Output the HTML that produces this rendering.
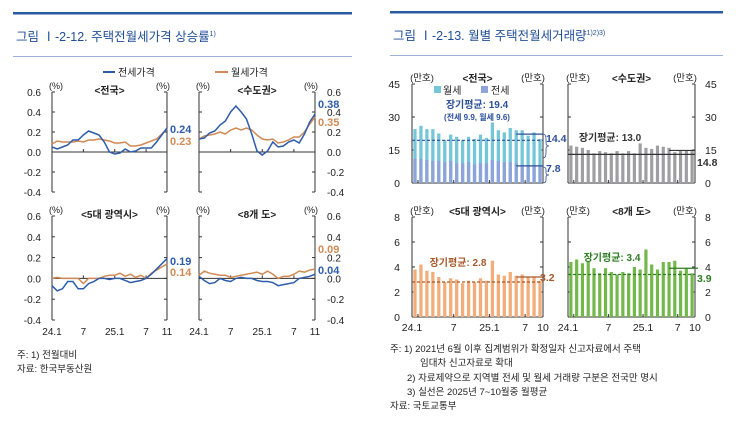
<!DOCTYPE html>
<html><head><meta charset="utf-8">
<style>
body{margin:0;background:#fff;}
svg{display:block;font-family:"Liberation Sans","Noto Sans CJK KR",sans-serif;}
</style></head>
<body>
<svg id="c" width="750" height="447" viewBox="0 0 750 447">
<g>
<rect x="13" y="12" width="339" height="2.5" fill="#2a5aa0"/>
<text x="16" y="41" font-size="12.5" fill="#1f4e96">그림 Ⅰ-2-12. 주택전월세가격 상승률<tspan font-size="7" dy="-5">1)</tspan></text>
<rect x="13" y="56" width="339" height="1" fill="#9bb3d6"/>
</g>
<g>
<rect x="390" y="11" width="333" height="2.5" fill="#2a5aa0"/>
<text x="393" y="40" font-size="12.5" fill="#1f4e96">그림 Ⅰ-2-13. 월별 주택전월세거래량<tspan font-size="7" dy="-5">1)2)3)</tspan></text>
<rect x="390" y="55" width="333" height="1" fill="#9bb3d6"/>
</g>
<g>
<line x1="103" y1="72" x2="115" y2="72" stroke="#2f5caa" stroke-width="2"/>
<text x="118" y="76" font-size="10" fill="#222">전세가격</text>
<line x1="215" y1="72" x2="228" y2="72" stroke="#d08a55" stroke-width="2"/>
<text x="231" y="76" font-size="10" fill="#222">월세가격</text>
</g>
<g id="charts"></g>
<g font-size="9.5" fill="#222">
<text x="17" y="358">주: 1) 전월대비</text>
<text x="17" y="372">자료: 한국부동산원</text>
</g>
<g font-size="9.5" fill="#222">
<text x="390" y="352">주: 1) 2021년 6월 이후 집계범위가 확정일자 신고자료에서 주택</text>
<text x="420" y="366">임대차 신고자료로 확대</text>
<text x="407" y="381">2) 자료제약으로 지역별 전세 및 월세 거래량 구분은 전국만 명시</text>
<text x="407" y="395">3) 실선은 2025년 7~10월중 월평균</text>
<text x="390" y="409">자료: 국토교통부</text>
</g>
</svg>
<script>
// ---- price change data (24.1 .. 25.11) ----
const priceTicks = [0.6, 0.4, 0.2, 0.0, -0.2, -0.4];
const priceXLabels = ["24.1", "7", "25.1", "7", "11"];
const priceXLabelIdx = [0, 6, 12, 18, 22];
const natJeonse = [0.05,0.03,0.05,0.07,0.12,0.12,0.17,0.21,0.19,0.17,0.10,0.00,-0.02,-0.01,0.03,0.00,0.01,0.04,0.04,0.04,0.10,0.17,0.24];
const natWolse = [0.08,0.11,0.10,0.10,0.10,0.11,0.10,0.12,0.12,0.13,0.12,0.11,0.09,0.09,0.10,0.06,0.06,0.07,0.09,0.11,0.13,0.18,0.23];
const capJeonse = [0.13,0.14,0.19,0.21,0.27,0.31,0.40,0.46,0.40,0.33,0.18,0.01,-0.03,0.01,0.10,0.05,0.06,0.10,0.12,0.09,0.18,0.30,0.38];
const capWolse = [0.13,0.16,0.17,0.18,0.20,0.18,0.22,0.24,0.22,0.24,0.22,0.17,0.13,0.12,0.13,0.09,0.10,0.12,0.15,0.15,0.20,0.28,0.35];
const metroJeonse = [-0.07,-0.12,-0.10,-0.03,-0.03,-0.10,-0.10,-0.05,-0.03,0.00,0.00,-0.01,0.00,0.00,-0.02,-0.04,-0.03,-0.02,0.00,0.04,0.09,0.14,0.19];
const metroWolse = [0.00,0.01,0.00,0.00,0.00,0.00,-0.05,0.00,0.00,0.00,0.02,0.03,0.03,0.05,0.02,0.04,0.01,0.03,0.00,0.05,0.08,0.11,0.14];
const provJeonse = [0.02,-0.02,-0.05,-0.04,0.00,-0.02,-0.03,0.00,0.01,0.00,0.00,-0.02,-0.03,-0.03,-0.04,-0.07,-0.06,-0.05,-0.04,0.00,0.01,0.02,0.04];
const provWolse = [0.03,0.07,0.05,0.04,0.03,0.03,0.01,0.02,0.03,0.04,0.05,0.06,0.04,0.07,0.04,0.00,0.02,0.02,0.04,0.07,0.06,0.08,0.09];
// ---- transaction volume data (24.1 .. 25.10), 만호 ----
const volXLabels = ["24.1", "7", "25.1", "7", "10"];
const volXLabelIdx = [0, 6, 12, 18, 21];
const natTicks = [45, 30, 15, 0];
const regTicks = [8, 6, 4, 2, 0];
const natTotal = [24.5,26,24.5,24.5,22.5,19.5,22,21,19.5,21,20,22,20.5,27.5,24,23,25,24,24,21.5,23,20];
const natJeonseVol = [11,11,10.5,10,10,9.5,10,9,9,9.5,8.5,9,9,10.5,10,9.5,9.5,9,8,8,8,7.5];
const natAvg = [19.4];
const natRecent = [22.2, 7.8];
const capVol = [17,16.5,16,15,13.5,14.5,14,13.5,14.5,13.5,14.5,13.5,18,16,15.5,17,16.5,16,14,15,15,14.5];
const capAvg = [13.0];
const capRecent = [14.8];
const metroVol = [3.8,4.2,3.7,3.6,3.2,2.8,3.1,3.0,2.7,2.9,2.8,3.1,2.9,4.5,3.4,3.3,3.6,3.3,3.4,3.2,3.2,2.9];
const metroAvg = [2.8];
const metroRecent = [3.2];
const provVol = [4.4,4.6,4.3,4.4,3.9,3.5,3.9,3.6,3.4,3.6,3.5,4.0,3.8,5.4,4.2,3.8,4.4,4.4,4.5,3.7,3.9,3.5];
const provAvg = [3.4];
const provRecent = [3.9];

const NS = "http://www.w3.org/2000/svg";
const root = document.getElementById("charts");
function mk(tag, attrs, parent, txt) {
  const e = document.createElementNS(NS, tag);
  for (const k in attrs) e.setAttribute(k, attrs[k]);
  if (txt !== undefined) e.textContent = txt;
  (parent || root).appendChild(e);
  return e;
}
const BLUE = "#2f5caa", ORANGE = "#d08a55";

function linePanel(name, x0, x1, yTop, yBot, title, jeonse, wolse, side, showX, lblJy, lblWy) {
  const g = mk("g", {});
  
  
  const vmin = -0.4, vmax = 0.6;
  const y = v => yBot - (v - vmin) / (vmax - vmin) * (yBot - yTop);
  const n = jeonse.length;
  const x = i => x0 + i * (x1 - x0) / (n - 1);
  mk("line", {x1: x0, y1: yTop, x2: x0, y2: yBot, stroke: "#333", "stroke-width": 1}, g);
  mk("line", {x1: x1, y1: yTop, x2: x1, y2: yBot, stroke: "#333", "stroke-width": 1}, g);
  mk("line", {x1: x0, y1: y(0), x2: x1, y2: y(0), stroke: "#333", "stroke-width": 1}, g);
  priceTicks.forEach(t => {
    mk("line", {x1: x0, y1: y(t), x2: x0 + 3, y2: y(t), stroke: "#333"}, g);
    mk("line", {x1: x1 - 3, y1: y(t), x2: x1, y2: y(t), stroke: "#333"}, g);
    let tx;
    if (side === "left") {
      tx = mk("text", {x: x0 - 11, y: y(t) + 4, "font-size": 10, fill: "#222", "text-anchor": "end"}, g, t.toFixed(1));
    } else {
      tx = mk("text", {x: x1 + 12, y: y(t) + 4, "font-size": 10, fill: "#222"}, g, t.toFixed(1));
    }
    
    
  });
  priceXLabelIdx.forEach(i => mk("line", {x1: x(i), y1: y(0), x2: x(i), y2: y(0) - 3, stroke: "#333"}, g));
  if (showX) {
    priceXLabelIdx.forEach((i, k) => {
      const tx = mk("text", {x: x(i), y: yBot + 15, "font-size": 10, fill: "#222", "text-anchor": "middle"}, g, priceXLabels[k]);
      
      
    });
  }
  mk("text", {x: x0 + 4, y: yTop - 3, "font-size": 9, fill: "#222", "text-anchor": "middle"}, g, "(%)");
  mk("text", {x: x1 - 4, y: yTop - 3, "font-size": 9, fill: "#222", "text-anchor": "middle"}, g, "(%)");
  const tt = mk("text", {x: (x0 + x1) / 2, y: yTop + 2, "font-size": 10, "font-weight": "bold", fill: "#222", "text-anchor": "middle"}, g, title);
  
  
  const pw = mk("polyline", {points: wolse.map((v, i) => x(i) + "," + y(v)).join(" "), fill: "none", stroke: ORANGE, "stroke-width": 1.5}, g);
  
  
  const pj = mk("polyline", {points: jeonse.map((v, i) => x(i) + "," + y(v)).join(" "), fill: "none", stroke: BLUE, "stroke-width": 1.5}, g);
  
  
  const lj = mk("text", {x: x1 + 3, y: lblJy, "font-size": 11, "font-weight": "bold", fill: BLUE}, g, jeonse[n - 1].toFixed(2));
  
  
  const lw = mk("text", {x: x1 + 3, y: lblWy, "font-size": 11, "font-weight": "bold", fill: ORANGE}, g, wolse[n - 1].toFixed(2));
  
  
}

linePanel("chart-nationwide-price", 52, 167, 92, 192, "<전국>", natJeonse, natWolse, "left", false, 133, 145);
linePanel("chart-capital-price", 199, 315, 92, 192, "<수도권>", capJeonse, capWolse, "right", false, 108, 126);
linePanel("chart-metro-price", 52, 167, 216, 320, "<5대 광역시>", metroJeonse, metroWolse, "left", true, 265, 276);
linePanel("chart-province-price", 199, 315, 216, 320, "<8개 도>", provJeonse, provWolse, "right", true, 274, 253);

function barPanel(name, x0, x1, yTop, yBot, vmax, ticks, title, side, showX, opts) {
  const g = mk("g", {});
  
  
  const y = v => yBot - v / vmax * (yBot - yTop);
  const n = opts.total.length;
  const step = (x1 - x0) / n;
  const cx = i => x0 + step * (i + 0.5);
  const bw = step * 0.55;
  mk("line", {x1: x0, y1: yTop, x2: x0, y2: yBot, stroke: "#333"}, g);
  mk("line", {x1: x1, y1: yTop, x2: x1, y2: yBot, stroke: "#333"}, g);
  mk("line", {x1: x0, y1: yBot, x2: x1, y2: yBot, stroke: "#333"}, g);
  ticks.forEach(t => {
    mk("line", {x1: x0, y1: y(t), x2: x0 + 3, y2: y(t), stroke: "#333"}, g);
    mk("line", {x1: x1 - 3, y1: y(t), x2: x1, y2: y(t), stroke: "#333"}, g);
    const tx = side === "left"
      ? mk("text", {x: x0 - 12, y: y(t) + 4, "font-size": 10.5, fill: "#222", "text-anchor": "end"}, g, String(t))
      : mk("text", {x: x1 + 10, y: y(t) + 4, "font-size": 10.5, fill: "#222"}, g, String(t));
    
    
  });
  volXLabelIdx.forEach((i, k) => {
    mk("line", {x1: cx(i) + step / 2, y1: yBot, x2: cx(i) + step / 2, y2: yBot - 3, stroke: "#333"}, g);
    if (showX) {
      const tx = mk("text", {x: k === 0 ? x0 : cx(i) + step / 2, y: yBot + 14, "font-size": 10.5, fill: "#222", "text-anchor": "middle"}, g, volXLabels[k]);
      
      
    }
  });
  mk("text", {x: x0 + 10, y: yTop - 3, "font-size": 9.5, fill: "#222", "text-anchor": "middle"}, g, "(만호)");
  mk("text", {x: x1 - 10, y: yTop - 3, "font-size": 9.5, fill: "#222", "text-anchor": "middle"}, g, "(만호)");
  const tt = mk("text", {x: (x0 + x1) / 2, y: yTop - 2, "font-size": 10, "font-weight": "bold", fill: "#222", "text-anchor": "middle"}, g, title);
  
  
  opts.total.forEach((v, i) => {
    const r = mk("rect", {x: cx(i) - bw / 2, y: y(v), width: bw, height: y(0) - y(v), fill: opts.color}, g);
    
    
  });
  if (opts.lower) {
    opts.lower.forEach((v, i) => {
      const r = mk("rect", {x: cx(i) - bw / 2, y: y(v), width: bw, height: y(0) - y(v), fill: opts.lowerColor}, g);
      
      
    });
  }
  const al = mk("line", {x1: x0, y1: y(opts.avg[0]), x2: x1, y2: y(opts.avg[0]), stroke: opts.avgColor, "stroke-width": 1.2, "stroke-dasharray": opts.dash || "none"}, g);
  
  
  const at = mk("text", {x: opts.avgLbl[0], y: opts.avgLbl[1], "font-size": 10, "font-weight": "bold", fill: opts.avgColor, "text-anchor": "middle"}, g, "장기평균: " + opts.avg[0].toFixed(1));
  
  
  opts.recent.forEach((v, k) => {
    const rl = mk("line", {x1: cx(17), y1: y(v), x2: x1 + (opts.ext || 0), y2: y(v), stroke: opts.recentColor, "stroke-width": 1.2}, g);
    
    
    const rt = mk("text", {x: opts.recentLbl[k][0], y: opts.recentLbl[k][1], "font-size": 10.5, "font-weight": "bold", fill: opts.recentColor}, g, opts.recentText[k]);
    
    
  });
  return {g, y, cx};
}

const p1 = barPanel("chart-nationwide-volume", 412, 543, 84, 183, 45, natTicks, "<전국>", "left", false, {
  total: natTotal, color: "#74c6d8", lower: natJeonseVol, lowerColor: "#8ea3d9",
  avg: natAvg, avgColor: "#2c4f9a", dash: "3,2", avgLbl: [477, 108],
  recent: natRecent, recentColor: "#2c4f9a", recentText: ["14.4", "7.8"], recentLbl: [[546, 142], [546, 172]]
});
mk("text", {x: 477, y: 120, "font-size": 8, "font-weight": "bold", fill: "#2c4f9a", "text-anchor": "middle"}, p1.g, "(전세 9.9, 월세 9.6)");
mk("rect", {x: 434, y: 86, width: 7, height: 7, fill: "#74c6d8"}, p1.g);
mk("text", {x: 443, y: 94, "font-size": 10, fill: "#222"}, p1.g, "월세");
mk("rect", {x: 481, y: 86, width: 7, height: 7, fill: "#8ea3d9"}, p1.g);
mk("text", {x: 491, y: 94, "font-size": 10, fill: "#222"}, p1.g, "전세");
mk("path", {d: "M543 134 q3 0 3 5 v4 q0 3 3 3 q-3 0 -3 3 v4 q0 5 -3 5", fill: "none", stroke: "#2c4f9a", "stroke-width": 0.8}, p1.g);
mk("path", {d: "M543 167 q3 0 3 3 v3 q0 2 3 2 q-3 0 -3 2 v3 q0 3 -3 3", fill: "none", stroke: "#2c4f9a", "stroke-width": 0.8}, p1.g);

barPanel("chart-capital-volume", 568, 695, 84, 183, 45, natTicks, "<수도권>", "right", false, {
  total: capVol, color: "#9e9ea3",
  avg: capAvg, avgColor: "#333", avgLbl: [610, 141],
  recent: capRecent, recentColor: "#333", recentText: ["14.8"], recentLbl: [[697, 166]]
});
barPanel("chart-metro-volume", 412, 543, 217, 317, 8, regTicks, "<5대 광역시>", "left", true, {
  total: metroVol, color: "#f2ad7b",
  avg: metroAvg, avgColor: "#a8592a", dash: "3,2", avgLbl: [458, 266],
  recent: metroRecent, recentColor: "#a8592a", recentText: ["3.2"], recentLbl: [[540, 281]]
});
barPanel("chart-province-volume", 568, 695, 217, 317, 8, regTicks, "<8개 도>", "right", true, {
  total: provVol, color: "#72b84a",
  avg: provAvg, avgColor: "#2e7d22", dash: "3,2", avgLbl: [612, 261],
  recent: provRecent, recentColor: "#2e7d22", recentText: ["3.9"], recentLbl: [[697, 282]], ext: 3
});
</script>
</body></html>
